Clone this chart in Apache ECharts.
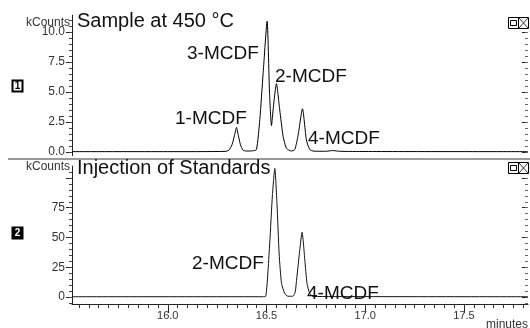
<!DOCTYPE html>
<html>
<head>
<meta charset="utf-8">
<script src="https://cdn.jsdelivr.net/npm/echarts@6/dist/echarts.min.js"></script>
<style>
  html, body { margin: 0; padding: 0; background: #fff; }
  #chart { width: 530px; height: 328px; }
</style>
</head>
<body>
<div id="chart"></div>
<script>
// trace 1: sample at 450 °C (minutes / kCounts)
const sampleTime = [15.515, 16.0, 16.29, 16.31, 16.325, 16.338, 16.348, 16.357, 16.368, 16.381, 16.40, 16.43,
  16.449, 16.466, 16.483, 16.503, 16.515, 16.525, 16.535, 16.550, 16.567, 16.584, 16.601, 16.626,
  16.643, 16.660, 16.682, 16.702, 16.719, 16.74, 16.80, 16.835, 16.87, 17.0, 17.824]
const sampleCounts = [0.03, 0.03, 0.05, 0.15, 0.6, 1.4, 2.05, 1.4, 0.6, 0.15, 0.08, 0.1,
  0.2, 2.7, 6.6, 10.9, 5.0, 2.2, 3.8, 5.7, 3.5, 1.3, 0.3, 0.08,
  0.2, 1.4, 3.6, 1.0, 0.2, 0.07, 0.06, 0.12, 0.06, 0.04, 0.03]

// trace 2: injection of standards
const standardTime = [15.515, 16.48, 16.496, 16.516, 16.530, 16.542, 16.553, 16.564, 16.576, 16.592, 16.608,
  16.633, 16.645, 16.652, 16.668, 16.680, 16.694, 16.705, 16.719, 16.736, 17.824]
const standardCounts = [0.2, 0.2, 0.5, 44.7, 86, 108, 78, 36, 11.4, 3, 0.6,
  0.6, 4, 14, 39, 54.4, 31, 11.4, 3, 0.4, 0.2]

const timeTicks = [16.0, 16.5, 17.0, 17.5]
const sampleTicks = [0, 2.5, 5.0, 7.5, 10.0]
const standardTicks = [0, 25, 50, 75, 100]
const standardLabels = [0, 25, 50, 75]

const timeMinor = []
for (let i = 311; i <= 356; i++) timeMinor.push(+(i * 0.05).toFixed(2))
const sampleMinor = []
for (let i = 0; i <= 22; i++) sampleMinor.push(i * 0.5)
const standardMinor = []
for (let i = -1; i <= 21; i++) standardMinor.push(i * 5)

const FONT = '"Liberation Sans", Arial, Helvetica, sans-serif'
const tMin = 15.515, tMax = 17.824

const zip = (a, b) => a.map((v, i) => [v, b[i]])

// left axis with labels + minor ticks, right side ticks only
function sideAxes(grid, min, max, major, minor, labels, fmt) {
  const base = { type: 'value', gridIndex: grid, min, max, splitLine: { show: false } }
  const off = { show: false }
  return [
    { ...base, position: 'left',
      axisLine: { show: true, onZero: false, lineStyle: { color: '#222', width: 1 } },
      axisTick: { show: true, length: 6, customValues: major, lineStyle: { color: '#222' } },
      axisLabel: { show: true, margin: 7, fontSize: 12, fontFamily: FONT, color: '#333', customValues: labels, formatter: fmt } },
    { ...base, position: 'left', axisLine: off, axisLabel: off,
      axisTick: { show: true, length: 3, customValues: minor, lineStyle: { color: '#444' } } },
    { ...base, position: 'right', axisLine: off, axisLabel: off,
      axisTick: { show: true, inside: true, length: 6, customValues: major, lineStyle: { color: '#222' } } },
    { ...base, position: 'right', axisLine: off, axisLabel: off,
      axisTick: { show: true, inside: true, length: 3, customValues: minor, lineStyle: { color: '#666' } } }
  ]
}

function text(str, x, y, size, opts) {
  return { type: 'text', z: 10, style: Object.assign({ text: str, x, y, fill: '#111',
    font: size + 'px ' + FONT, verticalAlign: 'middle', align: 'left' }, opts || {}) }
}

function cornerIcon(y) {
  return [
    { type: 'rect', z: 10, shape: { x: 508.5, y: y + 0.5, width: 20, height: 11 }, style: { fill: '#fff', stroke: '#000', lineWidth: 1 } },
    { type: 'line', z: 10, shape: { x1: 518.5, y1: y, x2: 518.5, y2: y + 12 }, style: { stroke: '#000', lineWidth: 1 } },
    { type: 'rect', z: 10, shape: { x: 510.5, y: y + 3.5, width: 6, height: 5 }, style: { fill: 'none', stroke: '#000', lineWidth: 1 } },
    { type: 'line', z: 10, shape: { x1: 519, y1: y + 1, x2: 528, y2: y + 11 }, style: { stroke: '#333', lineWidth: 1 } },
    { type: 'line', z: 10, shape: { x1: 519, y1: y + 11, x2: 528, y2: y + 1 }, style: { stroke: '#333', lineWidth: 1 } }
  ]
}

function panelBox(num, y, dark) {
  return [
    { type: 'rect', z: 10, shape: { x: 12.5, y: y + 0.5, width: 10, height: 11 },
      style: { fill: dark ? '#000' : '#fff', stroke: '#000', lineWidth: 2 } },
    text(num, 17.5, y + 6.5, 10, { align: 'center', fill: dark ? '#fff' : '#000', font: 'bold 10px ' + FONT })
  ]
}

const chart = echarts.init(document.getElementById('chart'), null, { renderer: 'canvas' })

const option = {
  animation: false,
  backgroundColor: '#fff',
  textStyle: { fontFamily: FONT },
  grid: [
    { left: 72, right: 2, top: 15.2, height: 140.4, outerBoundsMode: 'none' },
    { left: 72, right: 2, top: 166.1, height: 138.0, outerBoundsMode: 'none' }
  ],
  xAxis: [
    { type: 'value', gridIndex: 0, min: tMin, max: tMax, show: false },
    { type: 'value', gridIndex: 1, min: tMin, max: tMax, position: 'bottom',
      splitLine: { show: false },
      axisLine: { show: true, onZero: false, lineStyle: { color: '#222', width: 1 } },
      axisTick: { show: true, length: 9, customValues: timeTicks, lineStyle: { color: '#222' } },
      axisLabel: { show: true, margin: 6, fontSize: 11, fontFamily: FONT, color: '#333',
        customValues: timeTicks, formatter: v => v.toFixed(1) } },
    { type: 'value', gridIndex: 1, min: tMin, max: tMax, position: 'bottom',
      splitLine: { show: false }, axisLine: { show: false, onZero: false }, axisLabel: { show: false },
      axisTick: { show: true, length: 4, customValues: timeMinor, lineStyle: { color: '#333' } } }
  ],
  yAxis: [
    ...sideAxes(0, -0.3, 11.4, sampleTicks, sampleMinor, sampleTicks, v => v.toFixed(1)),
    ...sideAxes(1, -6, 110, standardTicks, standardMinor, standardLabels, v => String(v))
  ],
  series: [
    { type: 'line', xAxisIndex: 0, yAxisIndex: 0, data: zip(sampleTime, sampleCounts),
      symbol: 'none', smooth: 0.2, lineStyle: { color: '#000', width: 1 } },
    { type: 'line', xAxisIndex: 1, yAxisIndex: 4, data: zip(standardTime, standardCounts),
      symbol: 'none', smooth: 0.2, lineStyle: { color: '#111', width: 1 } }
  ],
  graphic: [
    { type: 'line', z: 5, shape: { x1: 8, y1: 159, x2: 530, y2: 159 }, style: { stroke: '#9a9a9a', lineWidth: 2 } },
    text('Sample at 450 °C', 77, 21.5, 20),
    text('Injection of Standards', 77, 168.5, 20),
    text('kCounts', 70, 23, 12, { align: 'right', fill: '#333' }),
    text('kCounts', 70, 167, 12, { align: 'right', fill: '#333' }),
    text('3-MCDF', 187, 54, 19),
    text('2-MCDF', 275, 77, 19),
    text('1-MCDF', 175, 119, 19),
    text('4-MCDF', 308, 138.5, 19),
    text('2-MCDF', 192, 263.5, 19),
    text('4-MCDF', 307, 294, 19),
    text('minutes', 528, 325, 12, { align: 'right', fill: '#333' }),
    ...panelBox('1', 80, false),
    ...panelBox('2', 227, true),
    ...cornerIcon(17),
    ...cornerIcon(162)
  ]
}

chart.setOption(option)
</script>
</body>
</html>
